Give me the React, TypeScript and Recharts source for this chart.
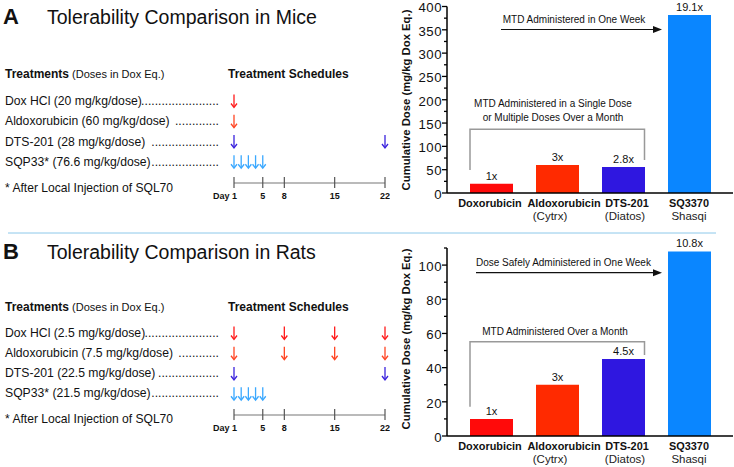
import { BarChart, Bar, XAxis, YAxis, LabelList, Cell, ScatterChart, Scatter } from "recharts";

// bar charts
const drugs = ["Doxorubicin", "Aldoxorubicin", "DTS-201", "SQ3370"];
const drugSources = ["", "(Cytrx)", "(Diatos)", "Shasqi"];
const barColors = ["#ff0a0a", "#ff2a00", "#2f17e0", "#0a86ff"];

const miceDose = [20, 60, 56, 382];
const miceFold = ["1x", "3x", "2.8x", "19.1x"];
const miceTicks = [0, 25, 50, 75, 100, 125, 150, 175, 200, 225, 250, 275, 300, 325, 350, 375, 400];

const ratDose = [10, 30, 45, 108];
const ratFold = ["1x", "3x", "4.5x", "10.8x"];
const ratTicks = [0, 10, 20, 30, 40, 50, 60, 70, 80, 90, 100, 110];

// treatment schedules
const dayTicks = [1, 5, 8, 15, 22];
const arrowColors = ["#ff1a1a", "#ff4422", "#3a22dd", "#3aa8ff"];

const miceTreatments = [
  "Dox HCl (20 mg/kg/dose)",
  "Aldoxorubicin (60 mg/kg/dose)",
  "DTS-201 (28 mg/kg/dose)",
  "SQP33* (76.6 mg/kg/dose)",
];
const miceDots = [23, 13, 20, 20];
const miceDays = [[1], [1], [1, 22], [1, 2, 3, 4, 5]];

const ratTreatments = [
  "Dox HCl (2.5 mg/kg/dose)",
  "Aldoxorubicin (7.5 mg/kg/dose)",
  "DTS-201 (22.5 mg/kg/dose)",
  "SQP33* (21.5 mg/kg/dose)",
];
const ratDots = [22, 12, 18, 20];
const ratDays = [[1, 8, 15, 22], [1, 8, 15, 22], [1, 22], [1, 2, 3, 4, 5]];

const FONT = '"Liberation Sans", Arial, Helvetica, sans-serif';

// small nudges so the category names don't collide (as in the original figure)
const nameShift = [-1, 7, 4, 0];
const sourceShift = [0, -7, 2, 0];

const DoseArrow = ({ cx, cy, color }: any) => (
  <g stroke={color} strokeWidth={1.3} fill="none">
    <line x1={cx} y1={cy - 6.5} x2={cx} y2={cy + 6} />
    <polyline points={`${cx - 3},${cy + 2.5} ${cx},${cy + 6.5} ${cx + 3},${cy + 2.5}`} />
  </g>
);

const DayTick = ({ x, y, payload }: any) => {
  const first = payload.value === 1;
  return (
    <g>
      <line x1={x} x2={x} y1={y - 6} y2={y + 5} stroke="#555" strokeWidth={1.2} />
      <text
        x={first ? x + 3 : x}
        y={y + 15.5}
        textAnchor={first ? "end" : "middle"}
        fontSize={9}
        fontWeight="bold"
        fill="#111"
      >
        {first ? "Day 1" : payload.value}
      </text>
    </g>
  );
};

const Schedule = ({ days, top }: { days: number[][]; top: number }) => {
  const rows = days.map((list, i) => list.map((d) => ({ day: d, row: i })));
  return (
    <div style={{ position: "absolute", left: 190, top }}>
      <ScatterChart width={200} height={128} margin={{ top: 16, right: 5, bottom: 0, left: 44 }}>
        <XAxis
          type="number"
          dataKey="day"
          domain={[1, 22]}
          ticks={dayTicks}
          interval={0}
          tickSize={0}
          tickMargin={0}
          tickLine={false}
          axisLine={{ stroke: "#777", strokeWidth: 1.2 }}
          tick={<DayTick />}
          height={30}
        />
        <YAxis type="number" dataKey="row" domain={[0, 4.05]} reversed hide />
        {rows.map((data, i) => (
          <Scatter
            key={i}
            data={data}
            isAnimationActive={false}
            shape={(p: any) => <DoseArrow {...p} color={arrowColors[i]} />}
          />
        ))}
      </ScatterChart>
    </div>
  );
};

const DoseTick = ({ x, y, payload, labelEvery }: any) => {
  const major = payload.value % labelEvery === 0;
  return (
    <g>
      <line x1={x - (major ? 5 : 3)} x2={x} y1={y} y2={y} stroke="#000" strokeWidth={1.3} />
      {major && (
        <text x={x - 5} y={y} dy={5.8} textAnchor="end" fontSize={13.2} letterSpacing={0.5} fill="#111">
          {payload.value}
        </text>
      )}
    </g>
  );
};

const DrugTick = ({ x, y, payload }: any) => {
  const i = drugs.indexOf(payload.value);
  return (
    <g>
      <text x={x + nameShift[i]} y={y + 13.5} textAnchor="middle" fontSize={10.9} fontWeight="bold" fill="#111">
        {payload.value}
      </text>
      <text x={x + sourceShift[i]} y={y + 27} textAnchor="middle" fontSize={11.5} fill="#222">
        {drugSources[i]}
      </text>
    </g>
  );
};

const DoseChart = ({ values, folds, ticks, max, labelEvery, top, height, marginTop, axisHeight }: any) => {
  const data = drugs.map((name, i) => ({ name, dose: values[i], fold: folds[i] }));
  return (
    <div style={{ position: "absolute", left: 370, top }}>
      <BarChart width={364} height={height} data={data} margin={{ top: marginTop, right: 1, left: 0, bottom: 0 }}>
        <XAxis
          dataKey="name"
          interval={0}
          tickSize={0}
          tickMargin={0}
          tickLine={false}
          tick={<DrugTick />}
          axisLine={{ stroke: "#000", strokeWidth: 1.5 }}
          padding={{ left: 11, right: 11 }}
          height={axisHeight}
        />
        <YAxis
          type="number"
          domain={[0, max]}
          ticks={ticks}
          interval={0}
          width={77}
          tickSize={0}
          tickMargin={0}
          tickLine={false}
          tick={<DoseTick labelEvery={labelEvery} />}
          axisLine={{ stroke: "#000", strokeWidth: 1.5 }}
        />
        <Bar dataKey="dose" barSize={43} isAnimationActive={false}>
          {data.map((d, i) => (
            <Cell key={d.name} fill={barColors[i]} />
          ))}
          <LabelList dataKey="fold" position="top" offset={4} fill="#111" fontSize={11} />
        </Bar>
      </BarChart>
    </div>
  );
};

const TreatmentText = ({ names, dots, header, rows, note }: any) => (
  <g>
    <text x={5} y={header} fontSize={12} fill="#111">
      <tspan fontWeight="bold">Treatments</tspan>
      <tspan fontSize={11}> (Doses in Dox Eq.)</tspan>
    </text>
    <text x={228} y={header} fontSize={12} fontWeight="bold" fill="#111">
      Treatment Schedules
    </text>
    {names.map((n: string, i: number) => (
      <g key={n}>
        <text x={5} y={rows[i]} fontSize={12.2} fill="#111">
          {n}
        </text>
        <text x={219} y={rows[i]} fontSize={12.2} fill="#111" textAnchor="end">
          {".".repeat(dots[i])}
        </text>
      </g>
    ))}
    <text x={5} y={note} fontSize={12.1} fill="#111">
      * After Local Injection of SQL70
    </text>
  </g>
);

export default function App() {
  return (
    <div
      style={{
        position: "absolute",
        left: 0,
        top: 0,
        width: 734,
        height: 467,
        background: "#fff",
        fontFamily: FONT,
        overflow: "hidden",
      }}
    >
      <Schedule days={miceDays} top={85} />
      <Schedule days={ratDays} top={317} />
      <DoseChart
        values={miceDose}
        folds={miceFold}
        ticks={miceTicks}
        max={400}
        labelEvery={50}
        top={-10}
        height={240}
        marginTop={16.5}
        axisHeight={37}
      />
      <DoseChart
        values={ratDose}
        folds={ratFold}
        ticks={ratTicks}
        max={110}
        labelEvery={20}
        top={234}
        height={233}
        marginTop={14}
        axisHeight={31}
      />

      <svg width={734} height={467} style={{ position: "absolute", left: 0, top: 0, pointerEvents: "none", fontFamily: FONT }}>
        {/* panel A */}
        <text x={3} y={23.5} fontSize={22} fontWeight="bold" fill="#111">A</text>
        <text x={47} y={23.5} fontSize={19.5} fill="#111">Tolerability Comparison in Mice</text>
        <TreatmentText names={miceTreatments} dots={miceDots} header={78} rows={[105, 125, 145.5, 165.5]} note={191.5} />
        <text transform="translate(410,100) rotate(-90)" textAnchor="middle" fontSize={11.3} fontWeight="bold" fill="#111">
          Cumulative Dose (mg/kg Dox Eq.)
        </text>
        <text x={502.7} y={23.3} fontSize={10} fill="#111">MTD Administered in One Week</text>
        <line x1={501} x2={654} y1={29.5} y2={29.5} stroke="#111" strokeWidth={1.2} />
        <polygon points="653,26 662,29.5 653,33" fill="#111" />
        <text x={553} y={107} fontSize={10} fill="#111" textAnchor="middle">MTD Administered in a Single Dose</text>
        <text x={553} y={120.5} fontSize={10} fill="#111" textAnchor="middle">or Multiple Doses Over a Month</text>
        <path d="M470,170 V129.3 H644.5 V160" stroke="#999" strokeWidth={1.5} fill="none" />

        <line x1={8} x2={716} y1={233} y2={233} stroke="#8cc8ea" strokeWidth={1} />

        {/* panel B */}
        <text x={3} y={259} fontSize={22} fontWeight="bold" fill="#111">B</text>
        <text x={47} y={259} fontSize={19.5} fill="#111">Tolerability Comparison in Rats</text>
        <TreatmentText names={ratTreatments} dots={ratDots} header={311} rows={[336.7, 356.7, 376.7, 396.7]} note={422.7} />
        <text transform="translate(410,339) rotate(-90)" textAnchor="middle" fontSize={11.3} fontWeight="bold" fill="#111">
          Cumulative Dose (mg/kg Dox Eq.)
        </text>
        <text x={476} y={265.7} fontSize={10} fill="#111">Dose Safely Administered in One Week</text>
        <line x1={476} x2={654} y1={272.7} y2={272.7} stroke="#111" strokeWidth={1.2} />
        <polygon points="653,269.2 662,272.7 653,276.2" fill="#111" />
        <text x={555} y={335} fontSize={10} fill="#111" textAnchor="middle">MTD Administered Over a Month</text>
        <path d="M470,406.7 V341.7 H644.5 V355" stroke="#999" strokeWidth={1.5} fill="none" />
      </svg>
    </div>
  );
}
